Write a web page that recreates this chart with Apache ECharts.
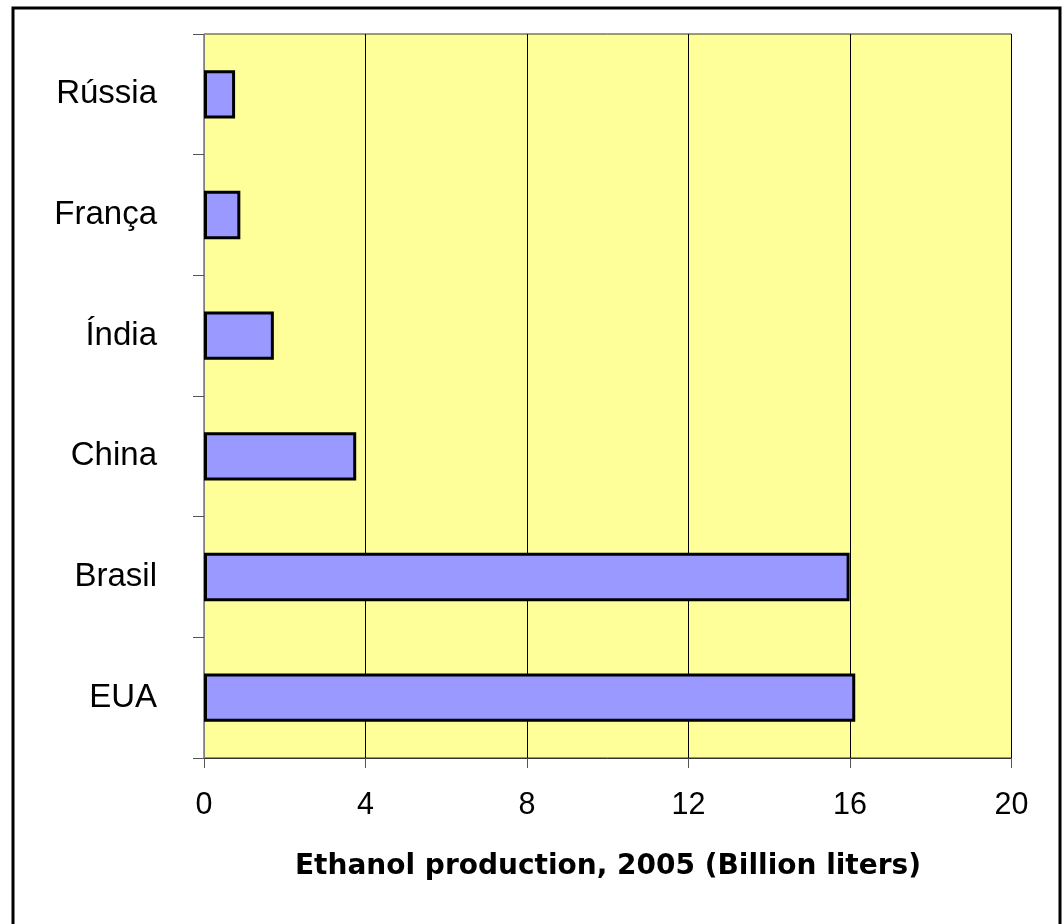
<!DOCTYPE html>
<html>
<head>
<meta charset="utf-8">
<script src="https://cdn.jsdelivr.net/npm/echarts@6/dist/echarts.min.js"></script>
<style>
html,body{margin:0;padding:0;background:#fff;}
#chart{width:1063px;height:924px;}
</style>
</head>
<body>
<div id="chart"></div>
<script>
const categories = ['EUA', 'Brasil', 'China', 'Índia', 'França', 'Rússia'];
const production = [16.13, 15.99, 3.77, 1.73, 0.90, 0.77];
const xTicks = [0, 4, 8, 12, 16, 20];
const axisTitle = 'Ethanol production, 2005 (Billion liters)';

const chart = echarts.init(document.getElementById('chart'), null, {renderer: 'canvas'});
chart.setOption({
  animation: false,
  backgroundColor: '#ffffff',
  grid: {
    left: 204, right: 51.5, top: 34, bottom: 166,
    show: true,
    backgroundColor: '#FFFF99',
    borderColor: '#333333',
    borderWidth: 1
  },
  xAxis: {
    type: 'value',
    min: xTicks[0],
    max: xTicks[xTicks.length - 1],
    interval: 4,
    axisLine: {show: true, lineStyle: {color: '#333333', width: 1}},
    axisTick: {show: true, inside: false, length: 10, lineStyle: {color: '#555555', width: 1}},
    splitLine: {show: true, lineStyle: {color: '#000000', width: 1}},
    axisLabel: {
      show: true, margin: 33, color: '#000000',
      fontFamily: 'Liberation Sans, Arial, sans-serif', fontSize: 30.5, lineHeight: 30
    }
  },
  yAxis: {
    type: 'category',
    data: categories,
    axisLine: {show: true, lineStyle: {color: '#808080', width: 1}},
    axisTick: {show: true, inside: false, length: 11, lineStyle: {color: '#555555', width: 1}},
    splitLine: {show: false},
    axisLabel: {
      show: true, margin: 47, color: '#000000',
      fontFamily: 'Liberation Sans, Arial, sans-serif', fontSize: 33
    }
  },
  series: [{
    type: 'bar',
    data: production,
    barWidth: '40%',
    itemStyle: {color: '#9999FF', borderColor: '#000000', borderWidth: 3},
    emphasis: {disabled: true}
  }],
  graphic: [
    {
      type: 'rect',
      shape: {x: 13, y: 8, width: 1047, height: 1000},
      style: {fill: 'none', stroke: '#000000', lineWidth: 3},
      silent: true
    },
    {
      type: 'text',
      x: 608, y: 867,
      style: {
        text: axisTitle,
        fill: '#000000',
        font: 'bold 28px "DejaVu Sans", sans-serif',
        textAlign: 'center',
        textVerticalAlign: 'middle'
      },
      silent: true
    }
  ]
});
</script>
</body>
</html>
